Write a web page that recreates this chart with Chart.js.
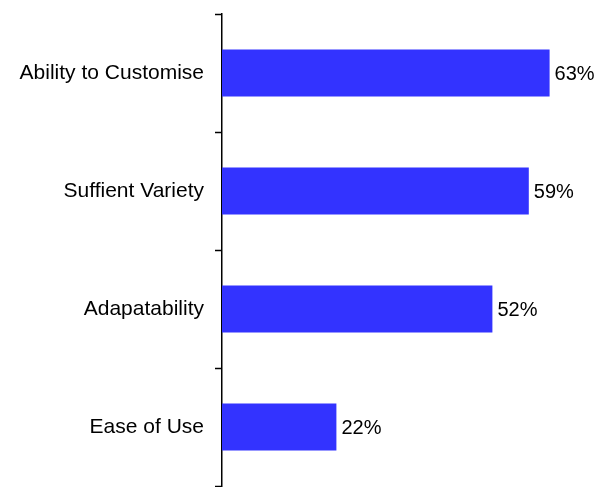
<!DOCTYPE html>
<html>
<head>
<meta charset="utf-8">
<script src="https://cdn.jsdelivr.net/npm/chart.js@4/dist/chart.umd.min.js"></script>
<style>
html,body{margin:0;padding:0;background:#fff;}
#wrap{width:607px;height:487px;position:relative;}
</style>
</head>
<body>
<div id="wrap"><canvas id="c"></canvas></div>
<script>
const categories = ["Ability to Customise", "Suffient Variety", "Adapatability", "Ease of Use"];
const values = [63, 59, 52, 22];
const valueLabels = ["63%", "59%", "52%", "22%"];

const labelPlugin = {
  id: 'valueLabels',
  afterDatasetsDraw(chart) {
    const ctx = chart.ctx;
    const meta = chart.getDatasetMeta(0);
    ctx.save();
    ctx.font = '20px "Liberation Sans", Arial, sans-serif';
    ctx.fillStyle = '#000';
    ctx.textAlign = 'left';
    ctx.textBaseline = 'middle';
    meta.data.forEach((bar, i) => {
      ctx.fillText(valueLabels[i], bar.x + 5, bar.y + 1);
    });
    ctx.restore();
  }
};

new Chart(document.getElementById('c'), {
  type: 'bar',
  data: {
    labels: categories,
    datasets: [{
      data: values,
      backgroundColor: '#3333FF',
      borderWidth: 0,
      barPercentage: 0.4,
      categoryPercentage: 1.0
    }]
  },
  options: {
    indexAxis: 'y',
    responsive: true,
    maintainAspectRatio: false,
    animation: false,
    layout: { padding: { top: 14, bottom: 1, left: 0, right: 21 } },
    plugins: { legend: { display: false }, tooltip: { enabled: false } },
    scales: {
      x: {
        display: false,
        min: 0,
        max: 70
      },
      y: {
        offset: true,
        afterFit(scale) { scale.width = 222; scale.paddingTop = 0; scale.paddingBottom = 0; },
        grid: {
          display: true,
          drawOnChartArea: false,
          offset: true,
          tickLength: 7,
          tickWidth: 1.5,
          tickColor: '#000'
        },
        border: { display: true, color: '#000', width: 1.5 },
        ticks: {
          padding: 11,
          color: '#000',
          font: { family: '"Liberation Sans", Arial, sans-serif', size: 21 }
        }
      }
    }
  },
  plugins: [labelPlugin]
});
</script>
</body>
</html>
